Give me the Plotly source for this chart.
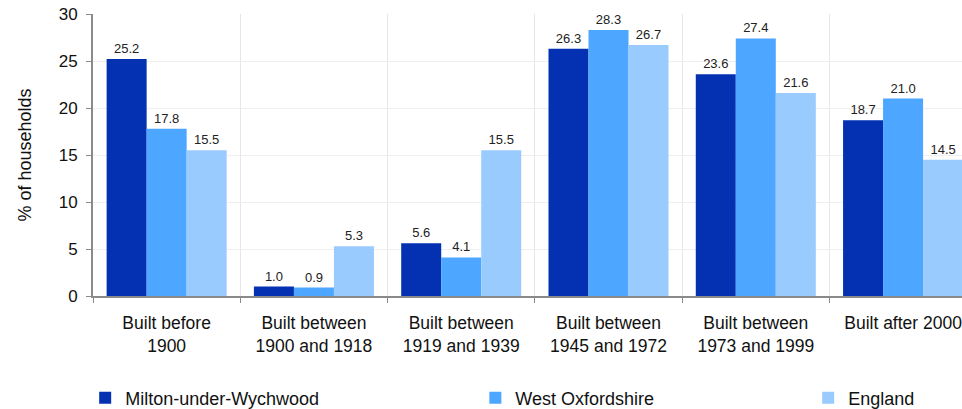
import plotly.graph_objects as go

categories = ["Built before<br>1900", "Built between<br>1900 and 1918", "Built between<br>1919 and 1939",
              "Built between<br>1945 and 1972", "Built between<br>1973 and 1999", "Built after 2000"]
milton = [25.2, 1.0, 5.6, 26.3, 23.6, 18.7]
west_ox = [17.8, 0.9, 4.1, 28.3, 27.4, 21.0]
england = [15.5, 5.3, 15.5, 26.7, 21.6, 14.5]
series_names = ["Milton-under-Wychwood", "West Oxfordshire", "England"]
colors = ["#0331b1", "#4da6ff", "#99cbff"]
y_ticks = [0, 5, 10, 15, 20, 25, 30]

FONT = "Liberation Sans, Arial, sans-serif"
TXT = "#111111"
fig = go.Figure()
legends = ["legend", "legend2", "legend3"]
for name, vals, col, lg in zip(series_names, [milton, west_ox, england], colors, legends):
    fig.add_trace(go.Bar(
        x=categories, y=vals, name=name, marker_color=col, marker_line_width=0,
        text=[f"{v:.1f}" for v in vals], textposition="outside",
        textfont=dict(size=13, color="#222222", family=FONT),
        cliponaxis=False, legend=lg,
    ))

leg_common = dict(orientation="h", yanchor="middle", y=-0.362, xanchor="left",
                  font=dict(size=18, color=TXT, family=FONT),
                  bgcolor="rgba(0,0,0,0)", itemwidth=30)
fig.update_layout(
    width=962, height=409,
    margin=dict(l=93, r=0, t=14, b=113, autoexpand=False),
    paper_bgcolor="white", plot_bgcolor="white",
    barmode="group", bargap=0.185, bargroupgap=0,
    font=dict(family=FONT, color=TXT),
    legend=dict(x=-0.009, **leg_common),
    legend2=dict(x=0.440, **leg_common),
    legend3=dict(x=0.823, **leg_common),
    showlegend=True,
)
fig.update_xaxes(
    range=[-0.5, 5.4], tickson="boundaries", ticks="outside", ticklen=5, tickcolor="#8a8a8a",
    showline=True, linecolor="#8a8a8a", linewidth=2, automargin=False,
    showgrid=True, gridcolor="#e6e6e6", gridwidth=1, ticklabelstandoff=10,
    tickfont=dict(size=17.5, color=TXT, family=FONT),
)
fig.update_yaxes(
    range=[0, 30], tickvals=y_ticks, ticks="outside", ticklen=5, tickcolor="#8a8a8a",
    showline=True, linecolor="#8a8a8a", linewidth=2, automargin=False,
    showgrid=True, gridcolor="#efefef", gridwidth=1, zeroline=False, ticklabelstandoff=5,
    tickfont=dict(size=17, color=TXT, family=FONT),
    title=dict(text="% of households", font=dict(size=18, color=TXT, family=FONT), standoff=22),
)
fig.write_html("out.html", config={"displayModeBar": False},
               post_script="document.body.style.margin='0';document.body.style.overflow='hidden';")
